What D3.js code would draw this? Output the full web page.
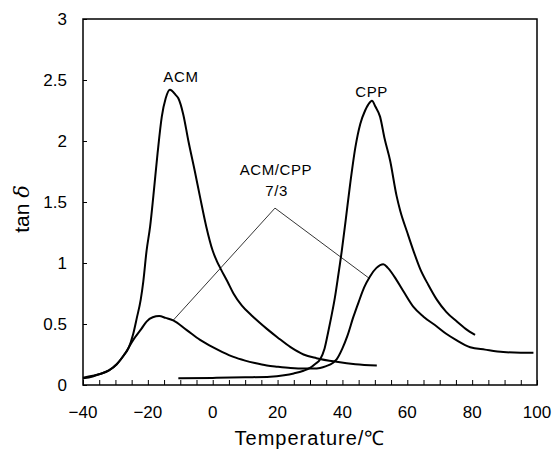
<!DOCTYPE html>
<html>
<head>
<meta charset="utf-8">
<script src="https://cdn.jsdelivr.net/npm/d3@7"></script>
<style>
  body { margin: 0; background: #fff; }
  svg { display: block; font-family: "Liberation Sans", Arial, sans-serif; }
  .curve { fill: none; stroke: #000; stroke-width: 2; stroke-linejoin: round; }
  .leader { stroke: #000; stroke-width: 0.8; }
</style>
</head>
<body>
<div id="chart"></div>
<script>
// tan delta vs temperature
var acmT = [-40, -37, -34.8, -32, -29.6, -27.5, -26, -24.5, -23.4, -22.2, -21.4, -20.4, -19.3, -18.3, -17, -15.7, -14.5, -13.2, -12.5, -11.5, -10.6, -9.1, -7.5, -5.5, -3.9, -2, 0, 1.2, 2.5, 4.5, 6.4, 9, 12, 14.5, 16.7, 20, 24, 28, 32, 38.2, 44, 50.6];
var acmTan = [0.055, 0.07, 0.09, 0.12, 0.17, 0.24, 0.3, 0.42, 0.55, 0.7, 0.85, 1.1, 1.3, 1.55, 1.9, 2.2, 2.35, 2.42, 2.41, 2.38, 2.35, 2.22, 2.0, 1.75, 1.54, 1.3, 1.1, 1.02, 0.95, 0.85, 0.75, 0.65, 0.57, 0.51, 0.46, 0.39, 0.31, 0.25, 0.22, 0.19, 0.17, 0.16];

var blendT = [-40, -37, -34.8, -32, -29.6, -27, -24.5, -22, -20.4, -18.5, -16.5, -14.5, -12.2, -8, -3.9, 0, 3, 6.4, 10, 13, 16.7, 20, 24, 28, 31, 33.1, 35, 37, 38.2, 40, 41.5, 43.4, 45, 46.7, 48.5, 50.5, 52.6, 54, 56.7, 59, 61.9, 65, 69.1, 72, 75, 79.4, 84, 89.6, 95, 98.9];
var blendTan = [0.06, 0.075, 0.09, 0.12, 0.17, 0.26, 0.37, 0.46, 0.52, 0.555, 0.565, 0.55, 0.53, 0.45, 0.37, 0.31, 0.27, 0.23, 0.2, 0.18, 0.16, 0.15, 0.14, 0.135, 0.135, 0.14, 0.155, 0.18, 0.21, 0.3, 0.4, 0.56, 0.68, 0.8, 0.89, 0.96, 0.99, 0.96, 0.86, 0.76, 0.64, 0.56, 0.48, 0.42, 0.37, 0.31, 0.29, 0.27, 0.265, 0.265];

var cppT = [-10.6, 0, 10, 17.7, 22, 25, 28, 30, 31.5, 33.1, 34.5, 35.5, 36.5, 37.7, 38.5, 39.8, 41, 42.4, 44, 45.5, 47, 48, 49.1, 50.2, 51.6, 53, 54.7, 56.7, 57.8, 60, 61.9, 64, 66.5, 69.1, 72, 75.3, 78, 80.9];
var cppTan = [0.055, 0.058, 0.063, 0.068, 0.08, 0.095, 0.117, 0.14, 0.17, 0.21, 0.3, 0.42, 0.55, 0.72, 0.86, 1.1, 1.35, 1.65, 1.95, 2.14, 2.25, 2.3, 2.33, 2.28, 2.2, 2.02, 1.84, 1.55, 1.43, 1.25, 1.1, 0.95, 0.82, 0.70, 0.6, 0.52, 0.46, 0.41];

var xTicks = [-40, -20, 0, 20, 40, 60, 80, 100];
var yTicks = [0, 0.5, 1, 1.5, 2, 2.5, 3];

// leader lines from the blend label down to its curve
var leaderApex = [19.2, 1.45];
var leaderEnds = [[-12.2, 0.53], [48.5, 0.87]];

var margin = {top: 19, right: 17, bottom: 67, left: 83},
    width = 554 - margin.left - margin.right,
    height = 452 - margin.top - margin.bottom;

var x = d3.scaleLinear().domain([-40, 100]).range([0, width]);
var y = d3.scaleLinear().domain([0, 3]).range([height, 0]);

var svg = d3.select("#chart").append("svg")
    .attr("width", 554)
    .attr("height", 452)
  .append("g")
    .attr("transform", "translate(" + margin.left + "," + margin.top + ")");

function zip(xs, ys) { return xs.map(function(d, i) { return [d, ys[i]]; }); }

var line = d3.line()
    .x(function(d) { return x(d[0]); })
    .y(function(d) { return y(d[1]); })
    .curve(d3.curveMonotoneX);

// bottom axis: minor ticks every 5, inward
var xAxis = svg.append("g")
    .attr("transform", "translate(0," + height + ")")
    .call(d3.axisBottom(x).tickValues(d3.range(-40, 101, 5)).tickSize(-5).tickFormat(""));
xAxis.select(".domain").remove();
xAxis.selectAll("line").attr("stroke-width", 1);

svg.selectAll(".xlab")
    .data(xTicks)
  .enter().append("text")
    .attr("x", function(d) { return x(d); })
    .attr("y", height + 33)
    .attr("text-anchor", "middle")
    .attr("font-size", 17)
    .text(function(d) { return d < 0 ? "\u2212" + Math.abs(d) : d; });

var yAxis = svg.append("g")
    .call(d3.axisLeft(y).tickValues(yTicks).tickSize(-4).tickFormat(""));
yAxis.select(".domain").remove();

svg.selectAll(".ylab")
    .data(yTicks)
  .enter().append("text")
    .attr("x", -16)
    .attr("y", function(d) { return y(d) + 6; })
    .attr("text-anchor", "end")
    .attr("font-size", 17)
    .text(function(d) { return d; });

// frame
svg.append("rect")
    .attr("width", width)
    .attr("height", height)
    .attr("fill", "none")
    .attr("stroke", "#000")
    .attr("stroke-width", 1.5);

svg.append("path").datum(zip(acmT, acmTan)).attr("class", "curve").attr("d", line);
svg.append("path").datum(zip(blendT, blendTan)).attr("class", "curve").attr("d", line);
svg.append("path").datum(zip(cppT, cppTan)).attr("class", "curve").attr("d", line);

leaderEnds.forEach(function(e) {
    svg.append("line")
        .attr("class", "leader")
        .attr("x1", x(leaderApex[0])).attr("y1", y(leaderApex[1]))
        .attr("x2", x(e[0])).attr("y2", y(e[1]));
});

var labels = [
    {t: "ACM", x: -9.8, y: 2.48},
    {t: "CPP", x: 49, y: 2.36},
    {t: "ACM/CPP", x: 19.5, y: 1.72},
    {t: "7/3", x: 19.7, y: 1.55}
];
svg.selectAll(".lab")
    .data(labels)
  .enter().append("text")
    .attr("x", function(d) { return x(d.x); })
    .attr("y", function(d) { return y(d.y); })
    .attr("text-anchor", "middle")
    .attr("font-size", 15)
    .attr("letter-spacing", 0.6)
    .text(function(d) { return d.t; });

// axis titles
svg.append("text")
    .attr("x", width / 2)
    .attr("y", height + 60)
    .attr("text-anchor", "middle")
    .attr("font-size", 20)
    .attr("letter-spacing", 1)
    .text("Temperature/\u2103");

var yt = svg.append("text")
    .attr("transform", "translate(-54," + (height / 2 + 7) + ") rotate(-90)")
    .attr("text-anchor", "middle")
    .attr("font-size", 21);
yt.append("tspan").text("tan ");
yt.append("tspan").attr("font-style", "italic").attr("font-family", "DejaVu Serif").text("\u03b4");
</script>
</body>
</html>
